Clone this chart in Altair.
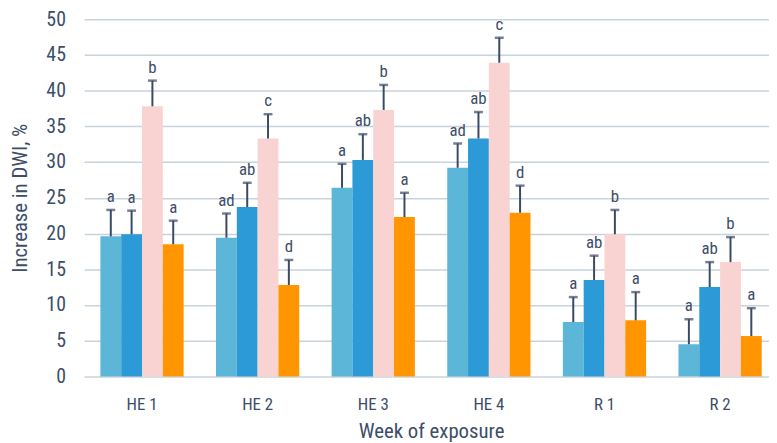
import altair as alt
import pandas as pd

weeks = ["HE 1", "HE 2", "HE 3", "HE 4", "R 1", "R 2"]
series = ["Group A", "Group B", "Group C", "Group D"]
colors = ["#5bb6d7", "#2b9ad6", "#f8d3d1", "#ff9500"]
y_ticks = [0, 5, 10, 15, 20, 25, 30, 35, 40, 45, 50]

means = {
    "Group A": [19.6, 19.4, 26.4, 29.2, 7.6, 4.5],
    "Group B": [19.9, 23.7, 30.3, 33.3, 13.5, 12.5],
    "Group C": [37.8, 33.3, 37.3, 43.9, 19.9, 16.0],
    "Group D": [18.5, 12.8, 22.3, 22.9, 7.85, 5.65],
}
errors = {
    "Group A": [3.7, 3.4, 3.35, 3.4, 3.5, 3.5],
    "Group B": [3.3, 3.4, 3.6, 3.7, 3.4, 3.5],
    "Group C": [3.6, 3.4, 3.5, 3.5, 3.4, 3.5],
    "Group D": [3.3, 3.5, 3.4, 3.8, 3.95, 3.9],
}
letters = {
    "Group A": ["a", "ad", "a", "ad", "a", "a"],
    "Group B": ["a", "ab", "ab", "ab", "ab", "ab"],
    "Group C": ["b", "c", "b", "c", "b", "b"],
    "Group D": ["a", "d", "a", "d", "a", "a"],
}

rows = []
for s in series:
    for i, w in enumerate(weeks):
        m = means[s][i]
        e = errors[s][i]
        rows.append({"week": w, "series": s, "mean": m, "upper": m + e,
                     "letter": letters[s][i]})
df = pd.DataFrame(rows)

FONT = "Roboto Condensed, Liberation Sans Narrow, DejaVu Sans Condensed, Roboto, sans-serif"
TXT = "#3d4e69"
ERR = "#3a4a66"

x = alt.X("week:N", sort=weeks,
          scale=alt.Scale(paddingInner=0.28, paddingOuter=0.14, range=[0, 701]),
          axis=alt.Axis(title="Week of exposure", labelAngle=0, ticks=False,
                        domainColor="#d6dde3", domainWidth=2,
                        labelFontSize=17, labelColor=TXT, labelFont=FONT,
                        labelPadding=20, titleFontSize=21, titleFont=FONT,
                        titleColor=TXT, titleFontWeight="normal",
                        titlePadding=9))
xo = alt.XOffset("series:N", sort=series, scale=alt.Scale(paddingInner=0, paddingOuter=0))

yscale = alt.Scale(domain=[0, 50], nice=False)
yaxis = alt.Axis(title="Increase in DWI, %", values=y_ticks,
                 labelOverlap=False, domain=False, ticks=False,
                 gridColor="#c8d3dc", gridWidth=1.5, labelFontSize=20,
                 labelColor=TXT, labelFont=FONT, labelPadding=19,
                 titleFontSize=21, titleFont=FONT, titleColor=TXT,
                 titleFontWeight="normal", titlePadding=16)

base = alt.Chart(df)

bars = base.mark_bar().encode(
    x=x, xOffset=xo,
    y=alt.Y("mean:Q", scale=yscale, axis=yaxis),
    color=alt.Color("series:N", sort=series,
                    scale=alt.Scale(domain=series, range=colors), legend=None),
)

rules = base.mark_rule(color=ERR, strokeWidth=2).encode(
    x=x, xOffset=xo, y=alt.Y("mean:Q", scale=yscale, axis=yaxis), y2="upper:Q")

caps = base.mark_tick(color=ERR, size=9, thickness=2.5, orient="horizontal").encode(
    x=x, xOffset=xo, y=alt.Y("upper:Q", scale=yscale, axis=yaxis))

labels = base.mark_text(font=FONT, fontSize=17, color=TXT, baseline="bottom",
                        dy=-4).encode(
    x=x, xOffset=xo, y=alt.Y("upper:Q", scale=yscale, axis=yaxis),
    text="letter:N")

chart = alt.layer(bars, rules, caps, labels).properties(
    width=692, height=361,
    autosize=alt.AutoSizeParams(type="none"),
    padding={"left": 77, "top": 9, "right": 0, "bottom": 64},
).configure_view(stroke=None).configure_axis(gridOpacity=1)

chart.save("out.html", embed_options={"renderer": "svg", "actions": False})
